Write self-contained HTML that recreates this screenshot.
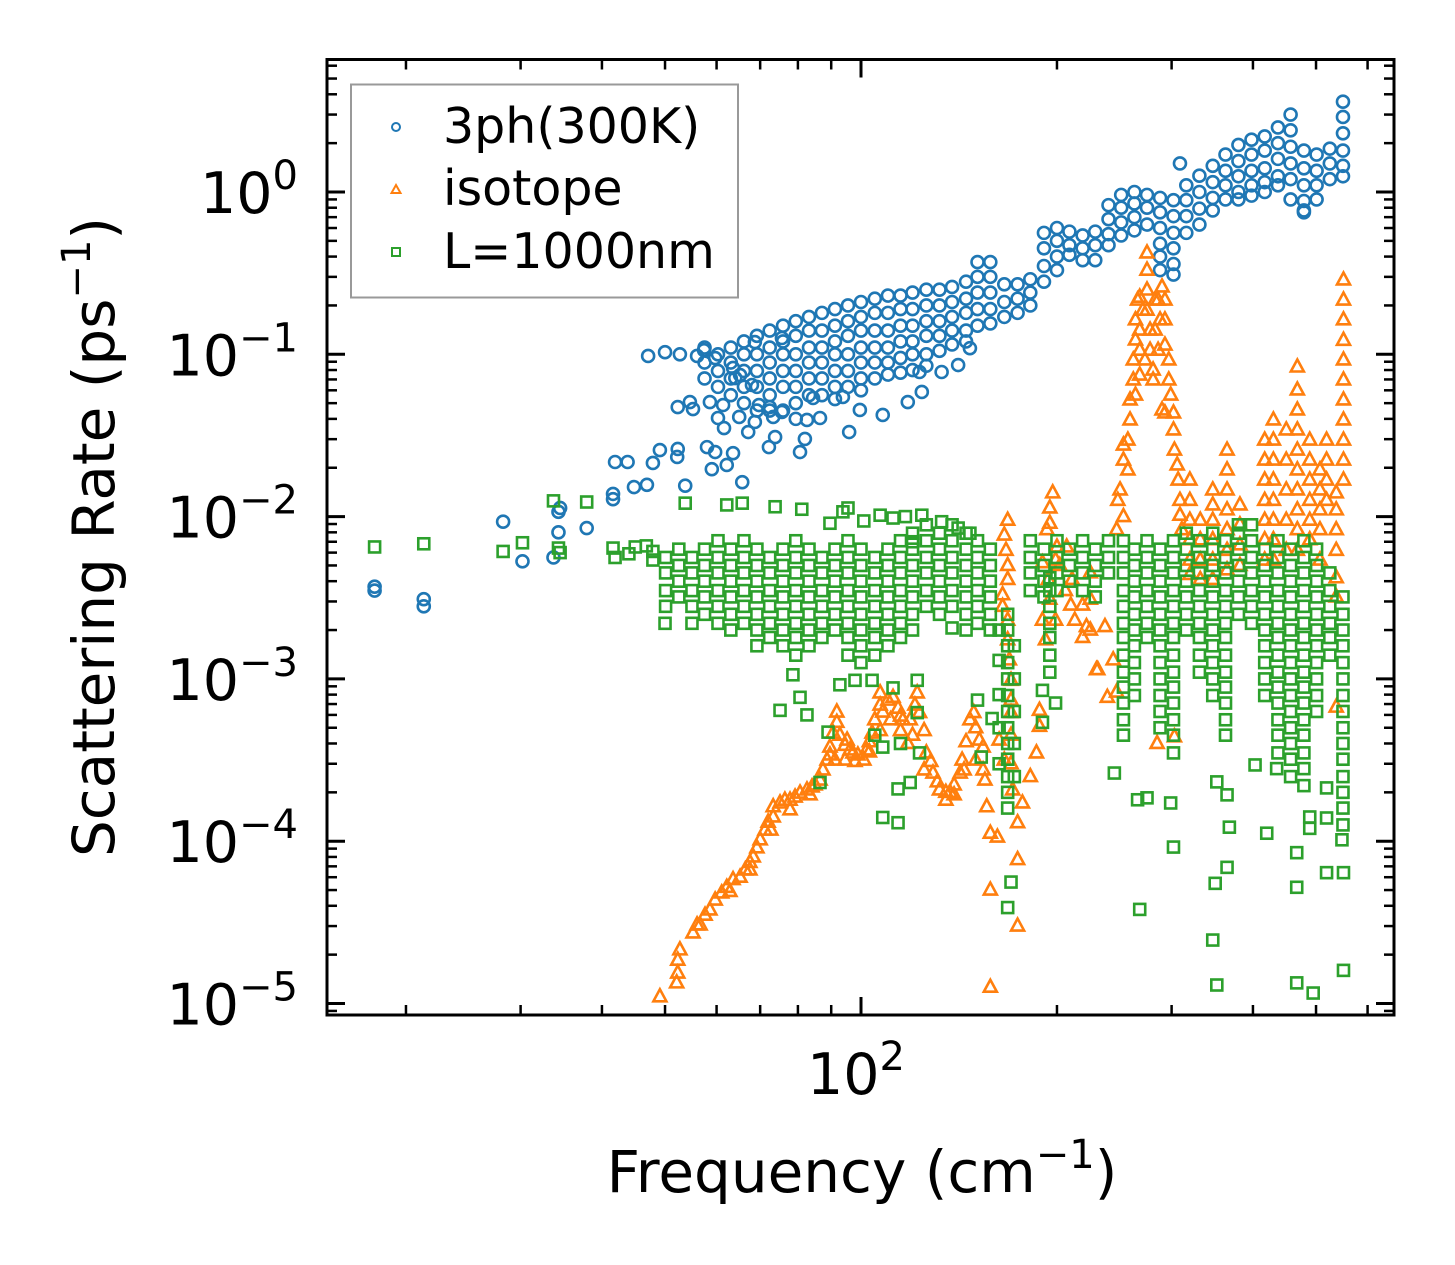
<!DOCTYPE html>
<html><head><meta charset="utf-8"><style>
html,body{margin:0;padding:0;background:#fff;}
svg{display:block;font-family:"DejaVu Sans","Liberation Sans",sans-serif;}
</style></head><body>
<svg id="chart" width="1455" height="1265" viewBox="0 0 1455 1265" xmlns="http://www.w3.org/2000/svg">
<rect x="0" y="0" width="1455" height="1265" fill="#fff"/>
<g id="marks"></g>
<g id="axes"></g>
<text x="862" y="1192" font-size="58" text-anchor="middle">Frequency (cm<tspan font-size="40" dy="-24">−1</tspan><tspan dy="24">)</tspan></text>
<text transform="translate(114,537) rotate(-90)" font-size="58" text-anchor="middle">Scattering Rate (ps<tspan font-size="40" dy="-24">−1</tspan><tspan dy="24">)</tspan></text>
<g>
<rect x="351" y="84.5" width="387" height="213" fill="#fff" fill-opacity="0.8" stroke="#999" stroke-width="2"/>
<g><circle cx="396" cy="127" r="4" fill="none" stroke="#1f77b4" stroke-width="2"/><text x="443" y="143" font-size="49">3ph(300K)</text></g>
<g><polygon points="396,185 400.5,193 391.5,193" fill="none" stroke="#ff7f0e" stroke-width="2"/><text x="443" y="205" font-size="49">isotope</text></g>
<g><rect x="392" y="248" width="8" height="8" fill="none" stroke="#2ca02c" stroke-width="2"/><text x="443" y="268" font-size="49">L=1000nm</text></g>
</g>
</svg>
<script>
// ---- 3ph(300K) data ----
const phFreq = [17.9,17.9,21.3,21.3,28.2,30.2,33.7,34.3,34.3,34.5,37.9,41.6,41.6,41.9,43.8,44.8,46.9,47.9,49.1,52.2,52.3,53.7,52.3,54.6,55.2,58.6,61.4,60.3,61.6,65.0,67.1,68.7,69.7,72.4,75.6,73.3,82.6,86.5,58.0,59.7,63.6,62.2,59.0,65.7,72.2,73.8,80.6,82.0,95.9,47.1,50.0,52.7,56.0,57.4,59.7,63.6,65.2,68.0,64.1,68.7,75.6,84.4,93.8,99.6,108,118,124,141,133,123,147,309,479];
const phRate = [0.0037,0.0035,0.0031,0.0028,0.0093,0.0053,0.0056,0.008,0.0107,0.0113,0.0085,0.0138,0.0128,0.0217,0.0217,0.0152,0.0157,0.0214,0.0257,0.0233,0.0261,0.0155,0.0473,0.0508,0.046,0.0508,0.0487,0.0405,0.0351,0.0411,0.0332,0.0383,0.0487,0.0473,0.0441,0.0411,0.0394,0.0405,0.0268,0.025,0.0246,0.0208,0.0196,0.0163,0.0268,0.0309,0.025,0.0301,0.0332,0.0977,0.103,0.1,0.0977,0.106,0.0948,0.0824,0.0745,0.0647,0.0714,0.119,0.126,0.0538,0.0546,0.0454,0.0423,0.0508,0.0586,0.0859,0.0778,0.0778,0.109,1.5,0.77];
const phColFreq = [57.5,60.3,63.1,66.1,69.2,72.4,75.9,79.4,83.2,87.1,91.2,95.5,100,105,110,115,120,126,132,138,145,151,158,166,174,182,191,200,209,219,229,240,251,263,275,288,302,316,331,347,363,380,398,417,437,457,479,501,525,550];
const phColRates = [
[0.11,0.089,0.071],[0.1,0.079,0.063],[0.11,0.089,0.071,0.056],[0.12,0.1,0.079,0.063,0.05],[0.13,0.1,0.079,0.063,0.045],
[0.14,0.11,0.089,0.071,0.056,0.045],[0.15,0.12,0.1,0.079,0.063,0.045],[0.16,0.13,0.1,0.079,0.063,0.05,0.04],[0.17,0.14,0.11,0.089,0.071,0.056],[0.18,0.14,0.11,0.089,0.071,0.056],
[0.19,0.15,0.12,0.1,0.079,0.063,0.053],[0.2,0.16,0.13,0.1,0.079,0.063],[0.21,0.17,0.14,0.11,0.089,0.071,0.06],[0.22,0.18,0.14,0.11,0.089,0.071],[0.23,0.18,0.14,0.11,0.089,0.075],
[0.23,0.19,0.15,0.12,0.095,0.077],[0.24,0.19,0.15,0.12,0.1,0.08],[0.25,0.2,0.16,0.13,0.1,0.085],[0.25,0.2,0.16,0.13,0.105],[0.26,0.21,0.17,0.14,0.115],
[0.28,0.22,0.18,0.14,0.12],[0.37,0.3,0.24,0.19,0.15],[0.37,0.3,0.24,0.19,0.155],[0.27,0.21,0.17],[0.27,0.22,0.18],
[0.29,0.24,0.2],[0.56,0.45,0.35,0.28],[0.6,0.5,0.4,0.33],[0.57,0.47,0.41],[0.54,0.45,0.38],
[0.57,0.47,0.38],[0.83,0.68,0.55,0.47],[0.96,0.8,0.65,0.54],[1.0,0.85,0.7,0.58],[0.96,0.8,0.63],
[0.92,0.75,0.6,0.48,0.4,0.33],[0.89,0.71,0.56,0.45,0.36,0.31],[1.1,0.89,0.71,0.56],[1.26,1.0,0.79,0.63],[1.45,1.15,0.92,0.77],
[1.7,1.35,1.1,0.9],[1.95,1.55,1.25,1.0,0.9],[2.1,1.7,1.35,1.1,0.95],[2.2,1.8,1.4,1.15,1.0],[2.5,2.0,1.6,1.25,1.1],
[3.0,2.4,1.9,1.5,1.2,0.9],[1.8,1.4,1.1,0.88,0.75],[1.7,1.35,1.1,0.9],[1.85,1.5,1.2],[3.6,2.9,2.3,1.8,1.45,1.25]];

// ---- isotope data ----
const isoFreq = [49.1,52.1,52.3,52.3,52.7,55.2,56.0,57.6,58.6,59.7,61.1,62.2,63.6,65.2,66.4,67.5,68.3,69.2,70.0,71.2,72.0,73.3,73.3,75.1,76.4,77.8,79.2,80.6,82.6,84.1,85.0,86.5,87.4,88.7,89.6,90.6,91.8,91.8,92.8,94.5,95.2,96.2,97.2,98.9,101,102,103,104,105,107,107,108,110,112,114,115,116,118,119,121,122,123,125,126,128,129,131,132,135,137,139,142,143,145,147,149,150,152,154,154,156,158,162,158,158,
89.6,91.2,94.5,97.9,103,107,111,115,120,125,135,139,144,150,155,83.5,77.8,72.7,67.5,62.9,56.6,
168,166,167,168,168,165,165,168,168,169,170,170,170,170,170,171,174,177,174,174,163,166,
197,195,195,200,190,207,211,190,222,219,230,188,188,186,182,193,199,194,195,202,206,192,199,210,213,219,225,225,225,237,244,231,239,247,248,253,247,285,303,250];
const isoRate = [1.1e-5,1.34e-5,1.54e-5,1.85e-5,2.14e-5,2.72e-5,3.05e-5,3.5e-5,3.77e-5,4.34e-5,4.8e-5,5.2e-5,5.8e-5,6.0e-5,6.65e-5,7.4e-5,8.0e-5,9.1e-5,1.02e-4,1.17e-4,1.31e-4,1.41e-4,1.63e-4,1.72e-4,1.79e-4,1.79e-4,1.87e-4,1.98e-4,2.07e-4,2.16e-4,2.22e-4,2.38e-4,2.75e-4,3.16e-4,3.8e-4,4.64e-4,5.4e-4,6.25e-4,4.5e-4,3.9e-4,4.2e-4,3.65e-4,3.5e-4,3.4e-4,3.16e-4,3.65e-4,4.1e-4,4.64e-4,5.6e-4,6.9e-4,8.2e-4,6.25e-4,7.4e-4,7.7e-4,6.6e-4,5.9e-4,5.6e-4,4.0e-4,5.6e-4,6.9e-4,8.2e-4,6.2e-4,4.8e-4,3.5e-4,3.1e-4,2.63e-4,2.32e-4,2.07e-4,2.0e-4,2.0e-4,2.22e-4,2.63e-4,3.16e-4,4.1e-4,5.6e-4,6.2e-4,5.0e-4,4.2e-4,3.8e-4,2.75e-4,1.63e-4,1.12e-4,1.06e-4,5.0e-5,1.26e-5,
3.4e-4,3.16e-4,3.16e-4,3.1e-4,3.55e-4,4.8e-4,5.6e-4,4.8e-4,4.5e-4,2.75e-4,1.79e-4,1.93e-4,2.75e-4,3.16e-4,2.38e-4,1.93e-4,1.56e-4,1.17e-4,6.65e-5,4.9e-5,3.05e-5,
9.5e-3,7.7e-3,6.2e-3,5.0e-3,4.1e-3,3.3e-3,2.8e-3,2.3e-3,1.74e-3,1.31e-3,9.8e-4,7.4e-4,6.2e-4,4.5e-4,3.0e-4,2.07e-4,1.3e-4,1.72e-4,7.7e-5,3.0e-5,4.2e-4,3.16e-4,
0.014,0.0113,0.0091,0.0065,0.0052,0.0065,0.0041,0.0023,0.0021,0.0018,0.00114,6.4e-4,5.1e-4,3.5e-4,2.5e-4,0.0083,0.0054,0.0041,0.0031,0.005,0.0035,1.74e-3,2.3e-3,2.85e-3,2.3e-3,2.85e-3,4.5e-3,3.1e-3,2.0e-3,2.1e-3,1.31e-3,1.14e-3,7.7e-4,8.3e-4,0.0126,0.01,0.0083,4.0e-4,4.4e-4,0.0146];
const isoColFreq = [253,257,259,262,264,266,268,271,273,275,278,281,283,286,288,290,293,297,299,302,303,306,307,309,311,320,332,347,365,382,417,430,450,468,489,507,519,537,551];
const isoColRates = [
[0.0223,0.0276],[0.0194,0.0296],[0.0394,0.0523],[0.0695,0.0923],[0.1226,0.163,0.0561],[0.216],[0.225,0.141,0.106,0.0745],[0.187],[0.0923],[0.421,0.33,0.249,0.187],
[0.141,0.106],[0.08,0.0695],[0.216,0.141],[0.216,0.106],[0.163],[0.26,0.0454],[0.216,0.163,0.114,0.0435],[0.0923,0.0695],[0.0561],[0.0435,0.0342],
[0.0257],[0.0208],[0.0168],[0.0126,0.0102],[0.0083],
[0.0168,0.0126,0.0095,0.0072,0.0054,0.0044],[0.0095,0.0072,0.0054,0.0041],[0.0146,0.0118,0.0095,0.0072,0.0054,0.0041],[0.0257,0.0194,0.0146,0.011,0.0083,0.0062,0.0047],[0.0118,0.0089,0.0067,0.005],
[0.0296,0.0223,0.0168,0.0126,0.0095,0.0072,0.0054],[0.0394,0.0296,0.0223,0.0168,0.0126,0.0095,0.0072,0.0054],[0.0342,0.0223,0.0146,0.0095,0.0062],[0.0835,0.0603,0.0454,0.0342,0.0257,0.0194,0.0146,0.011,0.0083,0.0062],[0.0296,0.0223,0.0168,0.0126,0.0095,0.0072],
[0.0194,0.0146,0.011,0.0083,0.0054],[0.0296,0.0223,0.0168,0.0126],[0.014,0.011,0.0083,0.0062,0.0042,0.0032,0.00067],[0.287,0.216,0.163,0.122,0.0923,0.0695,0.0523,0.0394,0.0296,0.0223,0.0168]];

// ---- L=1000nm boundary data ----
const bdFreq = [17.9,21.3,28.2,30.2,33.7,34.3,34.5,37.9,41.6,41.9,44.0,45.0,46.8,47.9,47.9,53.7,62.2,65.7,73.8,81.1,89.6,93.8,95.5,101,107,112,117,124,133,141,147,120,
78.6,80.6,75.1,82.6,92.8,97.9,104,112,122,122,105,108,115,123,86.5,114,119,108,114,89.0,50.0,138,151,159,153,
170,168,190,199,190,
245,266,275,302,268,368,420,365,350,467,467,489,489,519,519,551,548,347,352,467,495,551,299,365,403,435,519,352];
const bdRate = [0.0065,0.0068,0.0061,0.0069,0.0125,0.0064,0.006,0.0123,0.0064,0.0056,0.0059,0.0065,0.0066,0.0061,0.0054,0.0121,0.0118,0.0121,0.0115,0.0111,0.0091,0.0107,0.0113,0.0094,0.0102,0.0098,0.01,0.0102,0.0093,0.0085,0.0079,0.007,
1.06e-3,7.7e-4,6.4e-4,6.0e-4,9.2e-4,9.8e-4,9.8e-4,8.8e-4,9.8e-4,6.2e-4,4.5e-4,3.8e-4,4.0e-4,3.5e-4,2.3e-4,2.1e-4,2.3e-4,1.4e-4,1.3e-4,4.7e-4,2.2e-3,2.06e-3,7.4e-4,5.7e-4,3.3e-4,
5.6e-5,3.9e-5,8.5e-4,7.1e-4,5.4e-4,
2.63e-4,1.8e-4,1.85e-4,9.2e-5,3.8e-5,1.22e-4,1.12e-4,6.9e-5,5.5e-5,8.5e-5,5.2e-5,1.41e-4,1.2e-4,1.39e-4,6.4e-5,6.4e-5,1.02e-4,2.46e-5,1.3e-5,1.34e-5,1.16e-5,1.6e-5,1.72e-4,1.93e-4,2.95e-4,2.8e-4,2.13e-4,2.32e-4];
const bdColFreq = [50.1,52.5,55,57.5,60.3,63.1,66.1,69.2,72.4,75.9,79.4,83.2,87.1,91.2,95.5,100,105,110,115,120,126,132,138,145,151,158,
163,168,172,182,191,195,200,209,219,229,240,
253,263,275,288,302,316,331,347,363,380,398,417,437,457,479,501,525,550];
const bdColRates = [
[0.0056,0.0045,0.0035,0.0028],[0.0063,0.005,0.004,0.0032],[0.0056,0.0045,0.0035,0.0028,0.0022],[0.0063,0.005,0.004,0.0032,0.0025],[0.0071,0.0056,0.0045,0.0035,0.0028,0.0022],
[0.0063,0.005,0.004,0.0032,0.0025,0.002],[0.0071,0.0056,0.0045,0.0035,0.0028,0.0022],[0.0063,0.005,0.004,0.0032,0.0025,0.002,0.0016],[0.0056,0.0045,0.0035,0.0028,0.0022,0.0018],[0.0063,0.005,0.004,0.0032,0.0025,0.002,0.0016],
[0.0071,0.0056,0.0045,0.0035,0.0028,0.0022,0.0018,0.0014],[0.0063,0.005,0.004,0.0032,0.0025,0.002,0.0016],[0.0056,0.0045,0.0035,0.0028,0.0022,0.0018],[0.0063,0.005,0.004,0.0032,0.0025,0.002],[0.0071,0.0056,0.0045,0.0035,0.0028,0.0022,0.0018,0.0014],
[0.0063,0.005,0.004,0.0032,0.0025,0.002,0.0016,0.00126],[0.0056,0.0045,0.0035,0.0028,0.0022,0.0018,0.0014],[0.0063,0.005,0.004,0.0032,0.0025,0.002,0.0016],[0.0071,0.0056,0.0045,0.0035,0.0028,0.0022,0.0018],[0.0079,0.0063,0.005,0.004,0.0032,0.0025,0.002],
[0.0089,0.0071,0.0056,0.0045,0.0035,0.0028],[0.0079,0.0063,0.005,0.004,0.0032,0.0025],[0.0089,0.0071,0.0056,0.0045,0.0035,0.0028],[0.0079,0.0063,0.005,0.004,0.0032,0.0025,0.002],[0.0071,0.0056,0.0045,0.0035,0.0028,0.0022],
[0.0063,0.005,0.004,0.0032,0.0025,0.002],
[0.002,0.0013,8e-4,5e-4,3e-4],[0.0025,0.002,0.0016,0.00126,0.001,7.9e-4,6.3e-4,5e-4,4e-4,3.2e-4,2.5e-4,2e-4,1.6e-4],[0.0016,0.001,6.3e-4,4e-4,2.5e-4],
[0.0071,0.0056,0.0045,0.0035],[0.0063,0.005,0.004,0.0032],[0.0042,0.0035,0.0028,0.0022,0.0018,0.0014,0.0011],[0.0071,0.0056,0.0045,0.0035],[0.0063,0.005,0.004],[0.0071,0.0056,0.0045,0.0035],[0.0063,0.005,0.004,0.0032],[0.0071,0.0056,0.0045],
[0.0071,0.0056,0.0045,0.0035,0.0028,0.0022,0.0018,0.0014,0.0011,8.9e-4,7.1e-4,5.6e-4,4.5e-4],[0.0063,0.005,0.004,0.0032,0.0025,0.002,0.0016,0.00126,0.001,7.9e-4],[0.0071,0.0056,0.0045,0.0035,0.0028,0.0022,0.0018],[0.0063,0.005,0.004,0.0032,0.0025,0.002,0.0016,0.00126,0.001,7.9e-4,6.3e-4,5e-4],[0.0071,0.0056,0.0045,0.0035,0.0028,0.0022,0.0018,0.0014,0.0011,8.9e-4,7.1e-4,5.6e-4,4.5e-4,3.5e-4],
[0.0079,0.0063,0.005,0.004,0.0032,0.0025,0.002],[0.0071,0.0056,0.0045,0.0035,0.0028,0.0022,0.0018,0.0014,0.0011],[0.0079,0.0063,0.005,0.004,0.0032,0.0025,0.002,0.0016,0.00126,0.001,7.9e-4],[0.0071,0.0056,0.0045,0.0035,0.0028,0.0022,0.0018,0.0014,0.0011,8.9e-4,7.1e-4,5.6e-4,4.5e-4],[0.0089,0.0079,0.0063,0.005,0.004,0.0032,0.0025],
[0.0089,0.0071,0.0056,0.0045,0.0035,0.0028,0.0022],[0.0063,0.005,0.004,0.0032,0.0025,0.002,0.0016,0.00126,0.001,7.9e-4],[0.0071,0.0056,0.0045,0.0035,0.0028,0.0022,0.0018,0.0014,0.0011,8.9e-4,7.1e-4,5.6e-4,4.5e-4,3.5e-4],[0.0063,0.005,0.004,0.0032,0.0025,0.002,0.0016,0.00126,0.001,7.9e-4,6.3e-4,5e-4,4e-4,3.2e-4,2.5e-4],[0.0071,0.0056,0.0045,0.0035,0.0028,0.0022,0.0018,0.0014,0.0011,8.9e-4,7.1e-4,5.6e-4,4.5e-4,3.5e-4,2.8e-4,2.2e-4],
[0.0063,0.005,0.004,0.0032,0.0025,0.002,0.0016,0.00126,0.001,7.9e-4,6.3e-4],[0.0045,0.0035,0.0028,0.0022,0.0018,0.0014],[0.0032,0.0025,0.002,0.0016,0.00126,0.001,7.9e-4,6.3e-4,5e-4,4e-4,3.2e-4,2.5e-4,2e-4,1.6e-4,1.26e-4]];

const yTickExps = [0,-1,-2,-3,-4,-5];
const xTickLabels = ["10","2"];

// ---- axis functions ----
const PL = 327, PR = 1394, PT = 59.5, PB = 1015;
const X100 = 861, XDEC = 651, Y1 = 192, YDEC = 162.3;
function xs(f){ return X100 + XDEC * (Math.log10(f) - 2); }
function ys(r){ return Y1 - YDEC * Math.log10(r); }

const NS = "http://www.w3.org/2000/svg";
const marks = document.getElementById('marks');
const axes = document.getElementById('axes');
function mk(tag, attrs, parent){
  const e = document.createElementNS(NS, tag);
  for (const k in attrs) e.setAttribute(k, attrs[k]);
  parent.appendChild(e);
  return e;
}
function circle(g, f, r){
  const el = mk('circle', {cx: xs(f), cy: ys(r), r: 6, fill: 'none', stroke: '#1f77b4', 'stroke-width': 2.6}, g);
  
  
}
function tri(g, f, r){
  const x = xs(f), y = ys(r);
  const el = mk('polygon', {points: x+','+(y-7.5)+' '+(x+6.5)+','+(y+4.5)+' '+(x-6.5)+','+(y+4.5), fill: 'none', stroke: '#ff7f0e', 'stroke-width': 2.6}, g);
  
  
}
function sq(g, f, r){
  const x = xs(f), y = ys(r);
  const el = mk('rect', {x: x-5.5, y: y-5.5, width: 11, height: 11, fill: 'none', stroke: '#2ca02c', 'stroke-width': 2.6}, g);
  
  
}
const clip = mk('clipPath', {id: 'pc'}, mk('defs', {}, marks));
mk('rect', {x: PL, y: PT, width: PR-PL, height: PB-PT}, clip);

const gB = mk('g', {'clip-path': 'url(#pc)'}, marks);


phFreq.forEach((f,i)=>circle(gB, f, phRate[i]));
phColFreq.forEach((f,i)=>phColRates[i].forEach(r=>circle(gB, f, r)));

const gO = mk('g', {'clip-path': 'url(#pc)'}, marks);


isoFreq.forEach((f,i)=>tri(gO, f, isoRate[i]));
isoColFreq.forEach((f,i)=>isoColRates[i].forEach(r=>tri(gO, f, r)));

const gG = mk('g', {'clip-path': 'url(#pc)'}, marks);


bdFreq.forEach((f,i)=>sq(gG, f, bdRate[i]));
bdColFreq.forEach((f,i)=>bdColRates[i].forEach(r=>sq(gG, f, r)));

// ---- axes ----
const frame = mk('rect', {x: PL, y: PT, width: PR-PL, height: PB-PT, fill: 'none', stroke: '#000', 'stroke-width': 3}, axes);


function tick(x1,y1,x2,y2,w){
  const t = mk('line', {x1:x1, y1:y1, x2:x2, y2:y2, stroke:'#000', 'stroke-width': w}, axes);
  
  
}
for (let dec = 10; dec <= 1000; dec *= 10){
  for (let m = 1; m <= 9; m++){
    const f = dec*m, x = xs(f);
    if (x < PL+1 || x > PR-1) continue;
    const L = m === 1 ? 18 : 10, w = m === 1 ? 3 : 2.5;
    tick(x, PB, x, PB-L, w); tick(x, PT, x, PT+L, w);
  }
}
for (let e = -6; e <= 1; e++){
  for (let m = 1; m <= 9; m++){
    const y = ys(m*Math.pow(10,e));
    if (y < PT+1 || y > PB-1) continue;
    const L = m === 1 ? 18 : 10, w = m === 1 ? 3 : 2.5;
    tick(PL, y, PL+L, y, w); tick(PR, y, PR-L, y, w);
  }
}
yTickExps.forEach(e=>{
  const y = ys(Math.pow(10,e));
  const t = mk('text', {x: 298, y: y+21, 'font-size': 57, 'text-anchor': 'end'}, axes);
  
  
  const a = mk('tspan', {}, t); a.textContent = '10';
  const b = mk('tspan', {'font-size': 40, dy: -24}, t); b.textContent = e < 0 ? '−' + (-e) : String(e);
});
{
  const t = mk('text', {x: xs(100) - 5, y: 1094, 'font-size': 57, 'text-anchor': 'middle'}, axes);
  
  
  const a = mk('tspan', {}, t); a.textContent = xTickLabels[0];
  const b = mk('tspan', {'font-size': 40, dy: -24}, t); b.textContent = xTickLabels[1];
}
</script>
</body></html>
